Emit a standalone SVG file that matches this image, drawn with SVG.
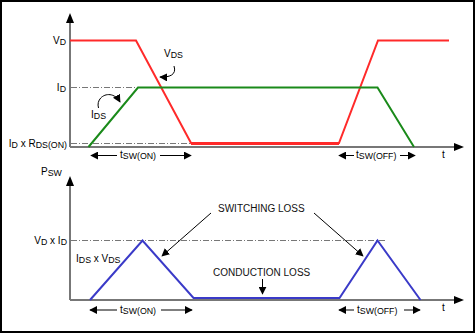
<svg xmlns="http://www.w3.org/2000/svg" width="475" height="333" viewBox="0 0 475 333">
<defs>
<marker id="ah" viewBox="0 0 10 10" refX="9" refY="5" markerWidth="8" markerHeight="8" markerUnits="userSpaceOnUse" orient="auto"><path d="M0,0 L10,5 L0,10 z" fill="#000"/></marker>
</defs>
<style>
text{font-family:"Liberation Sans",Arial,sans-serif;font-size:10px;fill:#000}
.s{font-size:8.8px}
.cap{font-size:10px;fill:#111}
.axis{stroke:#777;stroke-width:2;fill:none}
.dd{stroke:#777;stroke-width:1;fill:none;stroke-dasharray:6,2,1,2}
.red{stroke:#ff2a2a;stroke-width:2;fill:none;stroke-linejoin:miter}
.grn{stroke:#1a8a1a;stroke-width:2;fill:none}
.blu{stroke:#3a3ac8;stroke-width:2;fill:none}
.arr{stroke:#000;stroke-width:1;fill:none;marker-end:url(#ah)}
</style>
<rect x="1" y="1" width="473" height="331" fill="#fff" stroke="#000" stroke-width="2"/>

<g id="connectors">
<!-- top axes -->
<path class="axis" d="M70,147 V22"/>
<path d="M66,23 L70,13 L74,23 z" fill="#000"/>
<path class="axis" d="M70,147 H455"/>
<path d="M454,143 L464,147 L454,151 z" fill="#000"/>
<!-- bottom axes -->
<path class="axis" d="M70,300 V185"/>
<path d="M66,186 L70,176 L74,186 z" fill="#000"/>
<path class="axis" d="M70,300 H455"/>
<path d="M454,296 L464,300 L454,304 z" fill="#000"/>
<!-- dash-dot reference lines -->
<path class="dd" d="M71,87.5 H137"/>
<path class="dd" d="M71,143.5 H190"/>
<path class="dd" d="M71,240.5 H386"/>
<!-- timing arrows -->
<path class="arr" d="M117,155.5 H91"/>
<path class="arr" d="M160,155.5 H191"/>
<path class="arr" d="M354,155.5 H339"/>
<path class="arr" d="M400,155.5 H415"/>
<path class="arr" d="M117,310 H90"/>
<path class="arr" d="M161,310 H192"/>
<path class="arr" d="M354,310 H339"/>
<path class="arr" d="M404,310 H420"/>
<!-- curved label arrows -->
<path class="arr" d="M174,66 C177,75 169,77.5 160,77"/>
<path class="arr" d="M98.5,108 C95,96 112,88 120,102"/>
<!-- loss arrows -->
<path class="arr" d="M211,213 L162,256"/>
<path class="arr" d="M314,213 L363,256"/>
<path class="arr" d="M262.5,279 V294"/>
</g>

<g id="vds">
<path class="red" d="M70,40.5 H136 L191,143 H339 L378,40.5 H449"/>
<path d="M191,143.5 H339" stroke="#ff2a2a" stroke-width="3" fill="none"/>
</g>
<g id="ids">
<path class="grn" d="M88.5,147 L138,87.5 H377.5 L414,147"/>
</g>
<g id="psw">
<path class="blu" d="M90,300 L142.5,240.5 L193.5,298 H339.5 L377.5,240.5 L420.5,300"/>
</g>

<g id="labels">
<text x="66" y="43.5" text-anchor="end">V<tspan class="s" dy="1">D</tspan></text>
<text x="66" y="90.5" text-anchor="end">I<tspan class="s" dy="1">D</tspan></text>
<text x="67" y="146.5" text-anchor="end">I<tspan class="s" dy="1">D</tspan><tspan dy="-1"> x R</tspan><tspan class="s" dy="1">DS(ON)</tspan></text>
<text x="164" y="57">V<tspan class="s" dy="1">DS</tspan></text>
<text x="91" y="118">I<tspan class="s" dy="1">DS</tspan></text>
<text x="120" y="158">t<tspan class="s" dy="1">SW(ON)</tspan></text>
<text x="356" y="158">t<tspan class="s" dy="1">SW(OFF)</tspan></text>
<text x="442" y="157.5">t</text>
<text x="41" y="175">P<tspan class="s" dy="1">SW</tspan></text>
<text x="67" y="243.5" text-anchor="end">V<tspan class="s" dy="1">D</tspan><tspan dy="-1"> x I</tspan><tspan class="s" dy="1">D</tspan></text>
<text x="76" y="261.5">I<tspan class="s" dy="1">DS</tspan><tspan dy="-1"> x V</tspan><tspan class="s" dy="1">DS</tspan></text>
<text class="cap" x="218" y="211.5">SWITCHING LOSS</text>
<text class="cap" x="213" y="275.5">CONDUCTION LOSS</text>
<text x="120" y="312.5">t<tspan class="s" dy="1">SW(ON)</tspan></text>
<text x="357" y="312.5">t<tspan class="s" dy="1">SW(OFF)</tspan></text>
<text x="442" y="311">t</text>
</g>
</svg>
